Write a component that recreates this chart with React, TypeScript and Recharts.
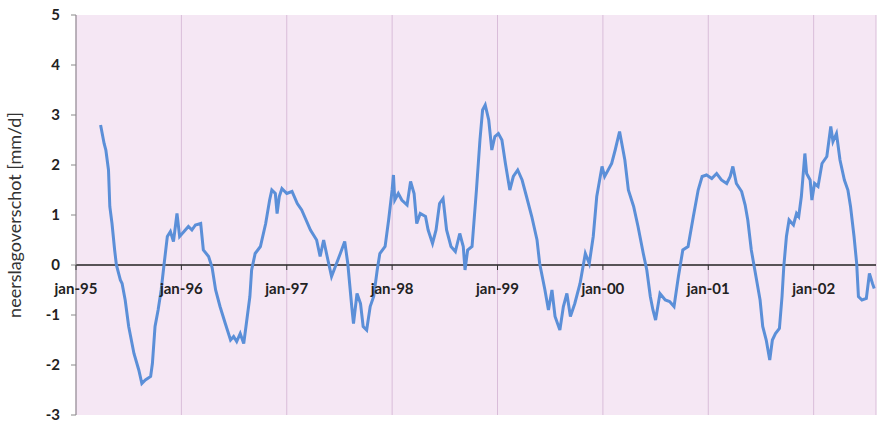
import React from "react";
import {
  LineChart,
  Line,
  XAxis,
  YAxis,
  CartesianGrid,
  ReferenceLine,
} from "recharts";

// months since jan-95
const monthOffset = [
  2.8, 3.2, 3.4, 3.7, 3.85, 4.1, 4.4, 4.6, 5.05, 5.25, 5.6, 6.0, 6.6, 7.15, 7.5,
  7.9, 8.5, 8.7, 9.0, 9.35, 9.7, 10.0, 10.4, 10.75, 11.1, 11.5, 11.8, 12.3, 12.8,
  13.2, 13.6, 14.2, 14.5, 15.1, 15.5, 15.9, 16.4, 17.0, 17.6, 17.95, 18.3, 18.7,
  19.1, 19.4, 19.8, 20.0, 20.4, 21.0, 21.6, 22.05, 22.3, 22.7, 22.9, 23.15,
  23.45, 24.0, 24.6, 25.2, 25.7, 26.7, 27.4, 27.8, 28.2, 28.6, 29.1, 29.6, 30.1,
  30.6, 30.95, 31.4, 31.6, 32.0, 32.4, 32.7, 33.1, 33.5, 33.9, 34.3, 34.6, 35.2,
  35.6, 36.0, 36.15, 36.3, 36.7, 37.1, 37.7, 38.1, 38.5, 38.8, 39.2, 39.8, 40.1,
  40.6, 41.0, 41.4, 41.8, 42.2, 42.7, 43.2, 43.7, 44.1, 44.3, 44.6, 45.1, 45.6,
  46.0, 46.3, 46.6, 47.0, 47.35, 47.7, 48.1, 48.5, 48.9, 49.4, 49.8, 50.3, 50.8,
  51.3, 51.9, 52.5, 52.8, 53.4, 53.8, 54.2, 54.55, 55.1, 55.5, 55.9, 56.3, 56.8,
  57.4, 58.0, 58.45, 58.9, 59.3, 59.9, 60.2, 61.0, 61.4, 61.9, 62.5, 62.9, 63.5,
  64.0, 64.6, 65.0, 65.4, 65.7, 66.0, 66.5, 67.1, 67.6, 68.1, 68.6, 69.1, 69.7,
  70.3, 70.85, 71.3, 71.8, 72.4, 72.95, 73.5, 74.1, 74.5, 74.8, 75.2, 75.8,
  76.2, 76.5, 76.9, 77.3, 77.9, 78.2, 78.6, 79.0, 79.3, 79.65, 80.1, 80.4, 80.6,
  80.9, 81.2, 81.7, 82.05, 82.3, 82.6, 83.0, 83.2, 83.6, 83.8, 84.1, 84.5, 84.95,
  85.5, 85.95, 86.2, 86.6, 87.0, 87.5, 87.9, 88.2, 88.6, 88.9, 89.1, 89.5, 90.0,
  90.35, 90.7, 90.9,
];

// neerslagoverschot in mm/d
const surplus = [
  2.8, 2.43, 2.3, 1.9, 1.17, 0.83, 0.3, 0.0, -0.3, -0.37, -0.7, -1.23, -1.77,
  -2.1, -2.37, -2.3, -2.23, -1.97, -1.23, -0.9, -0.5, -0.03, 0.57, 0.67, 0.47,
  1.03, 0.57, 0.67, 0.77, 0.7, 0.8, 0.83, 0.3, 0.17, -0.05, -0.5, -0.83, -1.17,
  -1.5, -1.43, -1.53, -1.37, -1.57, -1.17, -0.63, -0.1, 0.23, 0.37, 0.83, 1.3,
  1.5, 1.43, 1.03, 1.37, 1.53, 1.43, 1.47, 1.23, 1.1, 0.7, 0.5, 0.17, 0.5, 0.17,
  -0.23, 0.0, 0.23, 0.47, 0.03, -0.83, -1.17, -0.57, -0.77, -1.23, -1.3, -0.83,
  -0.63, -0.1, 0.23, 0.37, 0.9, 1.5, 1.8, 1.3, 1.43, 1.3, 1.2, 1.67, 1.43, 0.83,
  1.03, 0.97, 0.7, 0.43, 0.7, 1.23, 1.33, 0.7, 0.37, 0.27, 0.63, 0.37, -0.1, 0.3,
  0.37, 1.5, 2.5, 3.1, 3.2, 2.9, 2.3, 2.57, 2.63, 2.5, 2.03, 1.5, 1.77, 1.9, 1.7,
  1.37, 0.97, 0.5, 0.03, -0.5, -0.9, -0.5, -1.03, -1.3, -0.83, -0.57, -1.03,
  -0.77, -0.37, 0.23, 0.03, 0.57, 1.37, 1.97, 1.77, 2.03, 2.3, 2.67, 2.1, 1.5,
  1.17, 0.77, 0.23, -0.1, -0.63, -0.9, -1.1, -0.57, -0.7, -0.73, -0.83, -0.23,
  0.3, 0.37, 0.97, 1.5, 1.77, 1.8, 1.73, 1.83, 1.7, 1.63, 1.77, 1.97, 1.63, 1.47,
  1.2, 0.9, 0.3, -0.1, -0.7, -1.23, -1.5, -1.9, -1.5, -1.37, -1.27, -0.63, -0.03,
  0.57, 0.9, 0.8, 1.03, 0.97, 1.37, 2.23, 1.83, 1.7, 1.3, 1.63, 1.57, 2.03, 2.17,
  2.77, 2.47, 2.63, 2.1, 1.7, 1.5, 1.17, 0.57, 0.03, -0.63, -0.7, -0.67, -0.17,
  -0.37, -0.47,
];

const yearTicks = [0, 12, 24, 36, 48, 60, 72, 84];
const yearLabels = ["jan-95", "jan-96", "jan-97", "jan-98", "jan-99", "jan-00", "jan-01", "jan-02"];
const valueTicks = [-3, -2, -1, 0, 1, 2, 3, 4, 5];

const data = monthOffset.map((m, i) => ({ m, v: surplus[i] }));

const W = 883;
const H = 423;
const TOP = 15;
const X_AXIS_H = 8;
const Y_MIN = -3;
const Y_MAX = 5;
// the month labels sit just under the zero line, not under the plot
const ZERO_Y = TOP + ((H - TOP - X_AXIS_H) * Y_MAX) / (Y_MAX - Y_MIN);
const FONT = "Lato, 'DejaVu Sans', sans-serif";

function YearTick(props: any) {
  const { x, payload } = props;
  const idx = yearTicks.indexOf(payload.value);
  return (
    <g>
      <line x1={x} x2={x} y1={ZERO_Y} y2={ZERO_Y + 5} stroke="#333" strokeWidth={1} />
      <text
        x={x}
        y={ZERO_Y + 29}
        textAnchor="middle"
        fontFamily={FONT}
        fontWeight={700}
        fontSize={15}
        fill="#222"
      >
        {yearLabels[idx]}
      </text>
    </g>
  );
}

export default function App() {
  return (
    <div style={{ position: "absolute", left: 0, top: 0, width: W, height: H, background: "#fff" }}>
      <LineChart width={W} height={H} data={data} margin={{ top: TOP, right: 7, bottom: 0, left: 0 }}>
        <CartesianGrid horizontal={false} stroke="#d9bdd9" fill="#f5e7f4" />
        <XAxis
          dataKey="m"
          type="number"
          domain={[0, 91.1]}
          ticks={yearTicks}
          interval={0}
          height={X_AXIS_H}
          axisLine={false}
          tickLine={false}
          tick={<YearTick />}
        />
        <YAxis
          domain={[Y_MIN, Y_MAX]}
          ticks={valueTicks}
          interval={0}
          width={76}
          axisLine={{ stroke: "#8a8a8a" }}
          tickLine={{ stroke: "#8a8a8a" }}
          tickSize={5}
          tickMargin={11}
          tick={{ fontFamily: FONT, fontWeight: 700, fontSize: 15, fill: "#222" }}
        />
        <ReferenceLine y={0} stroke="#222" strokeWidth={1.5} />
        <Line
          type="linear"
          dataKey="v"
          stroke="#5b8fd8"
          strokeWidth={3}
          dot={false}
          isAnimationActive={false}
        />
      </LineChart>
      <div
        style={{
          position: "absolute",
          left: 14,
          top: 215,
          transform: "translate(-50%, -50%) rotate(-90deg)",
          whiteSpace: "nowrap",
          fontFamily: FONT,
          fontSize: 18,
          color: "#333",
        }}
      >
        neerslagoverschot [mm/d]
      </div>
    </div>
  );
}
